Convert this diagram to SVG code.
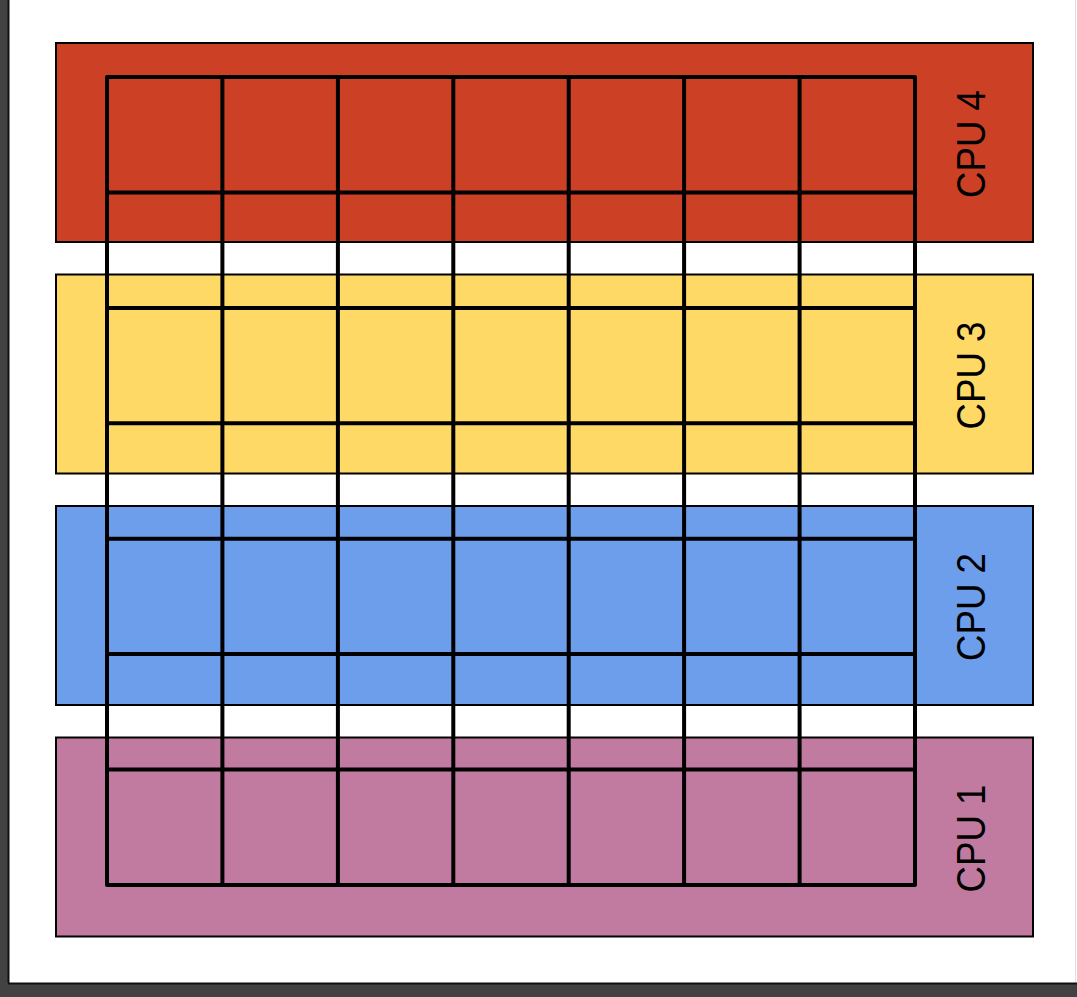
<svg xmlns="http://www.w3.org/2000/svg" width="1077" height="997" viewBox="0 0 1077 997">
<style>
.cpu{stroke:#000;stroke-width:2}
.grid{fill:none;stroke:#000;stroke-width:4;stroke-linejoin:round;stroke-linecap:round}
.lbl{font-family:"Liberation Sans",Arial,sans-serif;font-size:41px;fill:#000;text-anchor:middle}
</style>
<rect x="0" y="0" width="1077" height="997" fill="#fff"/>
<g id="frame">
<rect x="0" y="0" width="8" height="997" fill="#424242"/>
<line x1="8.5" y1="0" x2="8.5" y2="983" stroke="#111" stroke-width="2"/>
<rect x="0" y="983" width="1077" height="14" fill="#424242"/>
<line x1="8" y1="983.5" x2="1077" y2="983.5" stroke="#111" stroke-width="2"/>
<line x1="1075.5" y1="0" x2="1075.5" y2="982" stroke="#e0e0e0" stroke-width="1"/>
</g>
<g id="cpu4"><rect class="cpu" x="56" y="43" width="977" height="199" fill="#cc4125"/><text class="lbl" transform="translate(985,144) rotate(-90)" textLength="108" lengthAdjust="spacingAndGlyphs">CPU 4</text></g>
<g id="cpu3"><rect class="cpu" x="56" y="274.5" width="977" height="199" fill="#ffd966"/><text class="lbl" transform="translate(985,375.5) rotate(-90)" textLength="108" lengthAdjust="spacingAndGlyphs">CPU 3</text></g>
<g id="cpu2"><rect class="cpu" x="56" y="506" width="977" height="199" fill="#6d9eeb"/><text class="lbl" transform="translate(985,607) rotate(-90)" textLength="108" lengthAdjust="spacingAndGlyphs">CPU 2</text></g>
<g id="cpu1"><rect class="cpu" x="56" y="737.5" width="977" height="199" fill="#c27ba0"/><text class="lbl" transform="translate(985,838.5) rotate(-90)" textLength="108" lengthAdjust="spacingAndGlyphs">CPU 1</text></g>
<g id="connectors">
<rect class="grid" x="107" y="77" width="808" height="808"/>
<path class="grid" d="M222.4 77V885M337.9 77V885M453.3 77V885M568.7 77V885M684.1 77V885M799.6 77V885M107 192.4H915M107 307.9H915M107 423.3H915M107 538.7H915M107 654.1H915M107 769.6H915"/>
</g>
</svg>
